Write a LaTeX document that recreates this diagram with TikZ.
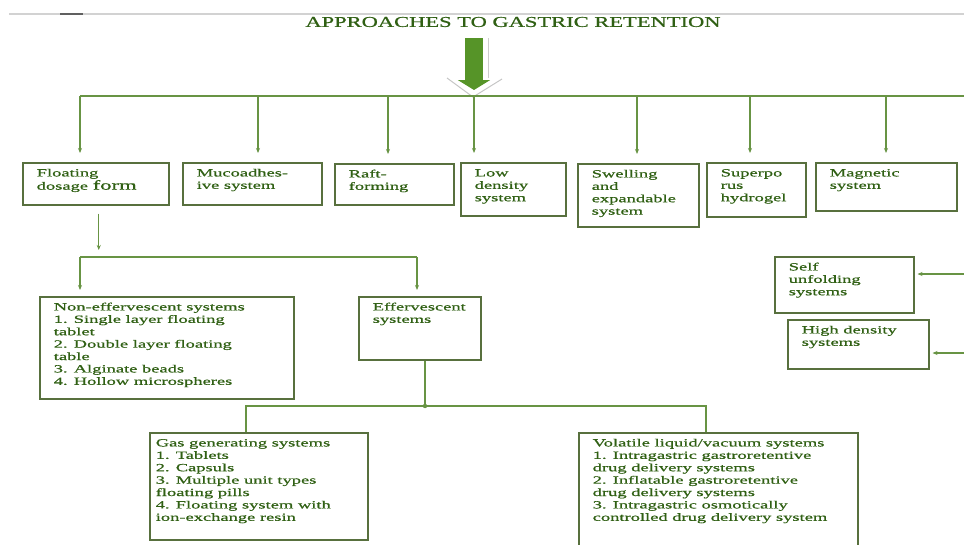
\documentclass[tikz,border=0pt]{standalone}
\usepackage{fontspec}
\setmainfont{Liberation Serif}
\newfontfamily\apfont[FakeStretch=1.68, FakeBold=0.8]{Liberation Serif}
\newfontfamily\aptitlefont[FakeStretch=1.5, FakeBold=0.8]{Liberation Serif}
\usetikzlibrary{arrows.meta}

\definecolor{textgreen}{RGB}{48,96,20}
\definecolor{boxgreen}{RGB}{88,112,62}
\definecolor{linegreen}{RGB}{104,148,68}
\definecolor{arrowgreen}{RGB}{86,148,40}

% texto de cada caja, alineado arriba a la izquierda
\newcommand{\boxlines}[3]{\parbox[t][#2][t]{#1}{\begin{tabular}[t]{@{}l@{}}#3\end{tabular}}}

\tikzset{
  apbox/.style={draw=boxgreen, line width=1.5pt, anchor=north west, inner xsep=14pt, inner ysep=5pt,
    text=textgreen, font=\apfont\fontsize{11}{12.4}\selectfont},
  aptitle/.style={text=textgreen, font=\aptitlefont\fontsize{15}{16}\selectfont, inner sep=0pt},
  link/.style={draw=linegreen, line width=1.2pt},
  arr/.style={link, -{Stealth[length=5pt,width=4pt]}},
  bigarrow/.style={draw=arrowgreen, line width=18pt, -{Triangle[width=32pt,length=10pt]}}
}

\begin{document}
\begin{tikzpicture}[x=1pt, y=-1pt]
  \useasboundingbox (0,0) rectangle (964,544);
  \clip (0,0) rectangle (964,544);

  % 1. Linea superior y titulo
  \draw[gray!35, line width=1.2pt] (9,14) -- (964,14);
  \draw[gray!75!black, line width=1.5pt] (60,14) -- (83,14);
  \node[aptitle] (title) at (513,22) {APPROACHES TO GASTRIC RETENTION};

  % Flecha gruesa
  \coordinate (arrtop) at (474,38);
  \coordinate (arrtip) at (474,90);
  \draw[gray!40, line width=0.8pt] (488,38) -- (488,78);
  \draw[gray!45, line width=1pt] (447,78) -- (473,97) -- (502,79);
  \draw[bigarrow] (arrtop) -- (arrtip);

  % 2. Cajas de la fila superior
  \node[apbox] (floating) at (22,162) {\boxlines{118pt}{32pt}{Floating\\dosage {\fontsize{13.5}{12.4}\selectfont form}}};
  \node[apbox] (muco) at (182,162) {\boxlines{111pt}{32pt}{Mucoadhes-\\ive system}};
  \node[apbox] (raft) at (334,163) {\boxlines{91pt}{31pt}{Raft-\\forming}};
  \node[apbox] (lowdens) at (460,162) {\boxlines{77pt}{43pt}{Low\\density\\system}};
  \node[apbox] (swelling) at (577,163) {\boxlines{93pt}{53pt}{Swelling\\and\\expandable\\system}};
  \node[apbox] (superporus) at (706,162) {\boxlines{71pt}{44pt}{Superpo\\rus\\hydrogel}};
  \node[apbox] (magnetic) at (815,162) {\boxlines{113pt}{38pt}{Magnetic\\system}};

  % Barra horizontal y bajadas con flecha
  \coordinate (barL) at (80,96);
  \coordinate (barR) at (975,96);
  \draw[link] (barL) -- (barR);
  \foreach \x/\n in {80/floating, 258/muco, 388/raft, 474/lowdens, 637/swelling, 750/superporus, 886/magnetic} {
    \coordinate (top\n) at (\x,96);
    \draw[arr, shorten >=9pt] (top\n) -- (top\n |- \n.north);
  }

  % 3. Sistemas flotantes
  \node[apbox] (noneff) at (39,296) {\boxlines{226pt}{92pt}{Non-effervescent systems\\1. Single layer floating\\tablet\\2. Double layer floating\\table\\3. Alginate beads\\4. Hollow microspheres}};
  \node[apbox] (efferv) at (358,296) {\boxlines{94pt}{53pt}{Effervescent\\systems}};

  \coordinate (br1) at (80,257);
  \coordinate (br2) at (417,257);
  \draw[arr, shorten <=8pt, shorten >=7pt] ([xshift=3pt]floating.south) -- ([xshift=3pt]floating.south |- br1);
  \draw[link] (br1) -- (br2);
  \draw[arr, shorten >=6pt] (br1) -- (br1 |- noneff.north);
  \draw[arr, shorten >=6pt] (br2) -- (br2 |- efferv.north);

  % 4. Sistemas efervescentes
  \node[apbox, inner xsep=6pt] (gasgen) at (149,432) {\boxlines{206pt}{97pt}{Gas generating systems\\1. Tablets\\2. Capsuls\\3. Multiple unit types\\floating pills\\4. Floating system with\\ion-exchange resin}};
  \node[apbox] (volatile) at (578,432) {\boxlines{251pt}{125pt}{Volatile liquid/vacuum systems\\1. Intragastric gastroretentive\\drug delivery systems\\2. Inflatable gastroretentive\\drug delivery systems\\3. Intragastric osmotically\\controlled drug delivery system}};

  \coordinate (jn) at (425,406);
  \coordinate (lowL) at (246,406);
  \coordinate (lowR) at (706,406);
  \draw[link] (jn |- efferv.south) -- (jn);
  \draw[link] (lowL |- gasgen.north) -- (lowL) -- (lowR) -- (lowR |- volatile.north);
  \fill[linegreen] (jn) circle (2.2pt);

  % 5. Cajas de la derecha
  \node[apbox] (selfunf) at (774,256) {\boxlines{111pt}{46pt}{Self\\unfolding\\systems}};
  \node[apbox] (highdens) at (787,319) {\boxlines{113pt}{39pt}{High density\\systems}};
  \coordinate (rself) at (975,274);
  \coordinate (rhigh) at (975,353);
  \draw[arr, shorten >=3pt] (rself) -- (rself -| selfunf.east);
  \draw[arr, shorten >=3pt] (rhigh) -- (rhigh -| highdens.east);
\end{tikzpicture}
\end{document}
